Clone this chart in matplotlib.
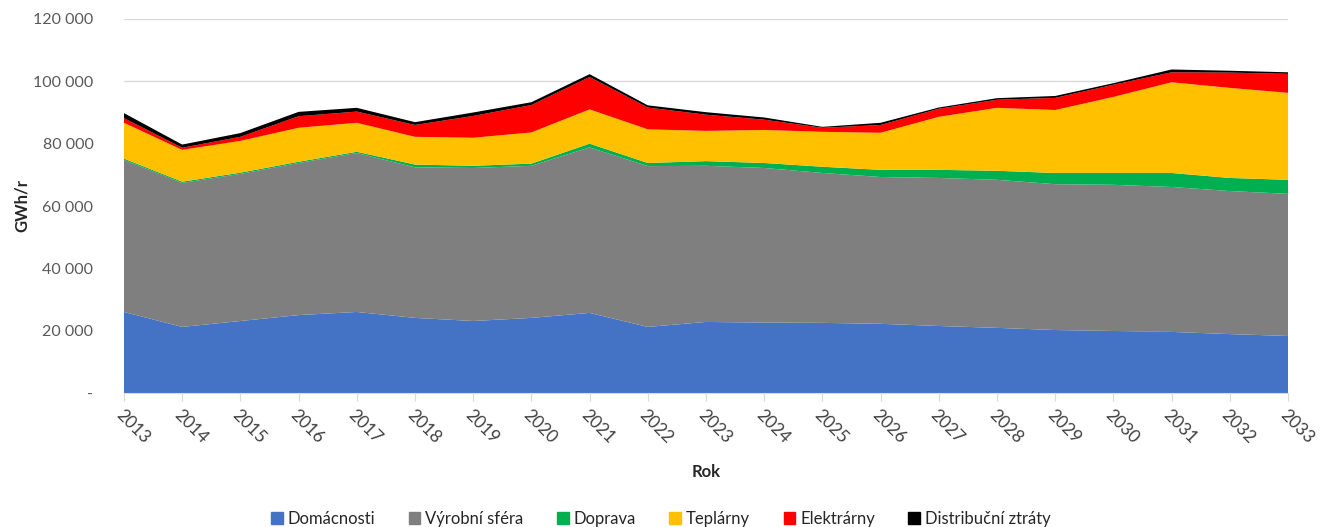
import matplotlib.pyplot as plt
import matplotlib.patches as mpatches
from matplotlib.ticker import FuncFormatter
import numpy as np

plt.rcParams['font.family'] = ['Lato', 'DejaVu Sans']

years = list(range(2013, 2034))
series_names = ["Domácnosti", "Výrobní sféra", "Doprava", "Teplárny",
                "Elektrárny", "Distribuční ztráty"]
colors = ["#4472C4", "#7F7F7F", "#00B050", "#FFC000", "#FF0000", "#000000"]

# GWh per year
domacnosti = [26000, 21200, 23100, 25000, 26000, 24100, 23100, 24100, 25700, 21200, 22800,
              22600, 22500, 22200, 21500, 20900, 20200, 19900, 19600, 18900, 18300]
vyrobni = [48800, 46200, 47200, 48800, 51000, 48300, 49100, 48800, 53100, 51600, 50100,
           49600, 48100, 47100, 47500, 47500, 46800, 46900, 46500, 45900, 45600]
doprava = [400, 400, 400, 400, 400, 900, 700, 700, 1200, 1000, 1500,
           1600, 2000, 2300, 2600, 2900, 3600, 3800, 4500, 4200, 4500]
teplarny = [11500, 10200, 10200, 10900, 9300, 8900, 9000, 10000, 11000, 10800, 9700,
            10600, 11200, 11900, 17000, 20200, 20200, 24400, 29100, 28900, 27900]
elektrarny = [1500, 700, 1300, 3700, 3600, 3800, 7000, 8800, 10400, 7000, 5200,
              3300, 1300, 2500, 2600, 2600, 3900, 3900, 3200, 4900, 6100]
ztraty = [1600, 1000, 1200, 1400, 1200, 900, 1100, 900, 900, 700, 800,
          700, 300, 700, 400, 500, 600, 500, 900, 600, 500]

fig = plt.figure(figsize=(13.22, 5.27), dpi=100)
ax = fig.add_axes([124 / 1322, 1 - 393 / 527, (1288 - 124) / 1322, (393 - 19) / 527])

ax.stackplot(years, domacnosti, vyrobni, doprava, teplarny, elektrarny, ztraty,
             colors=colors, linewidth=0)

ax.set_xlim(2013, 2033)
ax.set_ylim(0, 120000)
ax.set_yticks(np.arange(0, 120001, 20000))
ax.yaxis.set_major_formatter(FuncFormatter(
    lambda v, p: "-" if v == 0 else f"{int(v):,}".replace(",", " ")))
ax.grid(axis='y', color='#d9d9d9', linewidth=1)
ax.set_axisbelow(True)

for s in ['top', 'right', 'left']:
    ax.spines[s].set_visible(False)
ax.spines['bottom'].set_color('#d9d9d9')

ax.set_xticks(years)
ax.set_xticklabels([str(y) for y in years], rotation=-45, ha='left', va='top',
                   rotation_mode='anchor', fontsize=12.5, color='#404040')
ax.tick_params(axis='x', length=6, color='#d9d9d9', pad=4)
ax.tick_params(axis='y', length=0, labelsize=11.5, labelcolor='#595959', pad=22)

ax.set_ylabel("GWh/r", fontsize=12, fontweight='bold', color='#262626')
ax.yaxis.set_label_coords(-0.081, 0.5)
ax.set_xlabel("Rok", fontsize=12, fontweight='bold', color='#262626')
ax.xaxis.set_label_coords(0.5, -0.19)

handles = [mpatches.Patch(color=c, label=n) for n, c in zip(series_names, colors)]
fig.legend(handles=handles, loc='center', bbox_to_anchor=(0.5, 0.015), ncol=6,
           frameon=False, fontsize=12, handlelength=0.7, handleheight=0.7,
           handletextpad=0.3, columnspacing=2.0, labelcolor='#262626')

fig.savefig("out.png", dpi=100)
